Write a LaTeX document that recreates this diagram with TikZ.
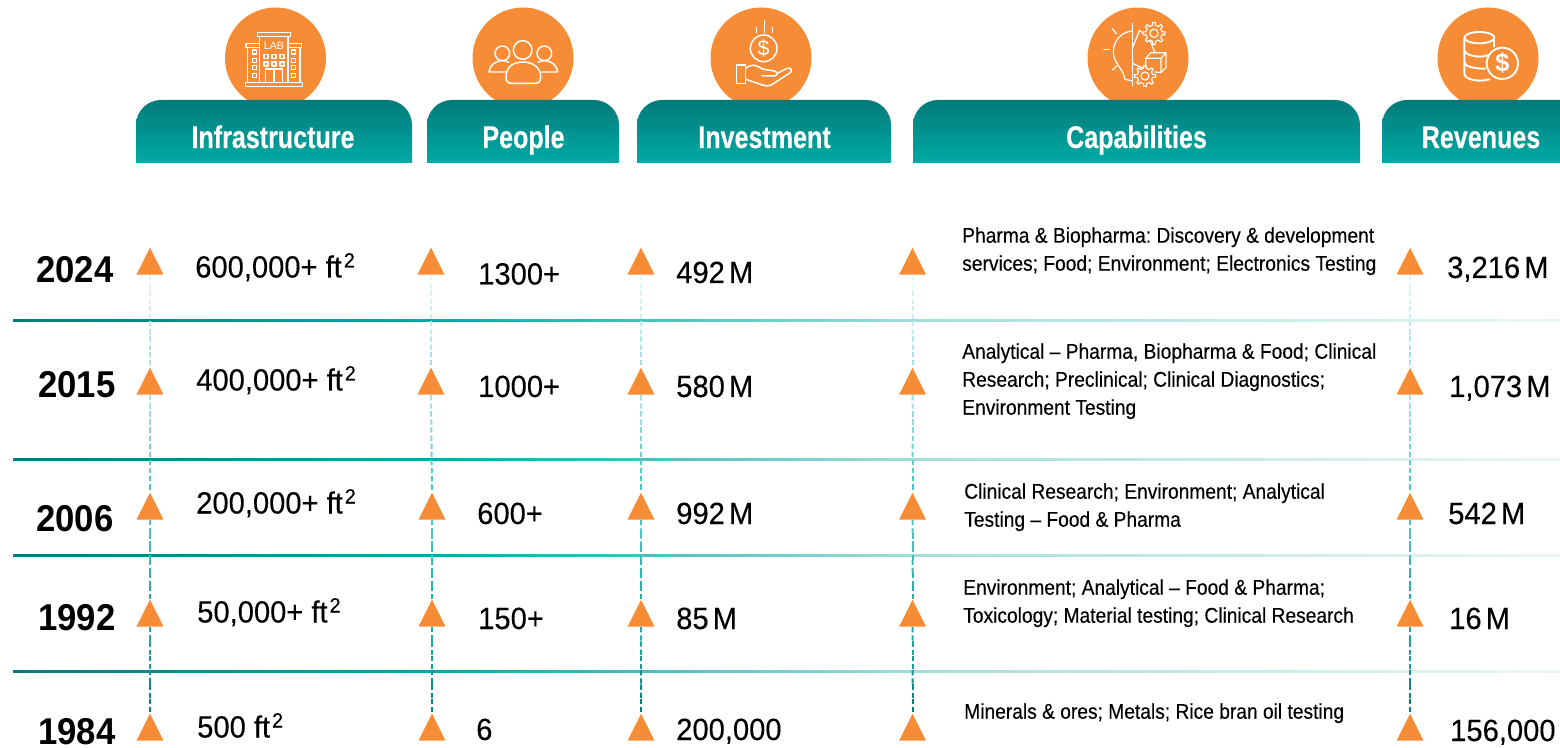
\documentclass[tikz,border=0pt]{standalone}
\usepackage{fontspec}
\setmainfont{Liberation Sans}
\newfontfamily\headfont[FakeStretch=0.80,FakeBold=0.3]{Liberation Sans Bold}
\newfontfamily\valfont[FakeStretch=0.95,FakeBold=0.25]{Liberation Sans}
\newfontfamily\capfont[FakeStretch=0.90,FakeBold=0.25]{Liberation Sans}
\newfontfamily\yearfont[FakeStretch=0.93]{Liberation Sans Bold}
\usetikzlibrary{shapes.geometric,calc}
\definecolor{orng}{HTML}{F68D36}
\definecolor{tealdark}{HTML}{047A7A}
\definecolor{teallight}{HTML}{00ABA5}
\definecolor{rulepale}{HTML}{A8DFDC}
\definecolor{rulegone}{HTML}{EAF7F7}
\pgfdeclarehorizontalshading{rulefade}{100bp}{color(0bp)=(tealdark); color(25bp)=(tealdark); color(38.5bp)=(teallight); color(55bp)=(rulepale); color(75bp)=(rulegone); color(100bp)=(rulegone)}
\tikzset{
  tri/.style={isosceles triangle,isosceles triangle apex angle=60,isosceles triangle stretches,shape border rotate=90,minimum width=27*0.75pt,minimum height=27*0.75pt,inner sep=0pt,fill=orng,draw=none,anchor=lower side},
  badge/.style={circle,fill=orng,minimum size=101*0.75pt,inner sep=0pt,draw=none},
  headtxt/.style={text=white,font=\headfont\fontsize{23.5pt}{26pt}\selectfont,anchor=base,inner sep=0pt},
  yeartxt/.style={font=\yearfont\fontsize{28pt}{30pt}\selectfont,anchor=base west,inner sep=0pt},
  valtxt/.style={font=\valfont\fontsize{23pt}{26pt}\selectfont,anchor=base west,inner sep=0pt},
  captxt/.style={font=\frenchspacing\capfont\fontsize{16pt}{21pt}\selectfont,anchor=north west,align=left,inner sep=0pt},
  ic/.style={draw=white,line width=1.1pt,line join=round,line cap=round},
  dashline/.style={line width=1.5pt,dash pattern=on 4pt off 2.2pt},
}
\newcommand{\sqtwo}{\kern1.5pt\raisebox{7.5pt}{\fontsize{15.5pt}{16pt}\selectfont 2}}
\newcommand{\conn}[4]{%
  \foreach \k [evaluate=\k as \f using \k/6, evaluate=\k as \g using \k/6+1/6, evaluate=\k as \p using int(100-100*\k/5)] in {0,...,5}{
    \draw[dashline,color=#3!\p!#4] ($(#1.south)!\f!(#2.north)$) -- ($(#1.south)!\g!(#2.north)$);
  }}
\newcommand{\headbar}[2]{%
  \shade[top color=tealdark,bottom color=teallight] (#1,163) -- (#1,125) arc[start angle=180,end angle=270,radius=25] -- ({#2-25},100) arc[start angle=270,end angle=360,radius=25] -- (#2,163) -- cycle;}
% gear: centre x, y in the scope's units; radii in pixels
\newcommand{\gearicon}[3]{%
  \begin{scope}[shift={(#1,#2)},x=0.75pt,y=-0.75pt]
  \draw[ic,line width=0.85pt,fill=orng] (-11:#3*0.74) \foreach \a in {0,45,...,315}{ -- (\a-11:#3*0.74) -- (\a-7:#3) -- (\a+7:#3) -- (\a+11:#3*0.74) } -- cycle;
  \draw[ic,line width=0.85pt] (0,0) circle[radius=#3*0.38];
  \end{scope}}
\begin{document}
\begin{tikzpicture}[x=0.75pt,y=-0.75pt]
\useasboundingbox (0,0) rectangle (1560,748);

% badges
\node[badge] (b1) at (275.5,58) {};
\node[badge] (b2) at (523,58) {};
\node[badge] (b3) at (761,58) {};
\node[badge] (b4) at (1138,58) {};
\node[badge] (b5) at (1488,58) {};

% header bars
\headbar{136}{412}
\headbar{427}{619}
\headbar{637}{891}
\headbar{913}{1360}
\shade[top color=tealdark,bottom color=teallight] (1382,163) -- (1382,125) arc[start angle=180,end angle=270,radius=25] -- (1560,100) -- (1560,163) -- cycle;
\node[headtxt] (t1) at (273,148) {Infrastructure};
\node[headtxt] (t2) at (523.5,148) {People};
\node[headtxt] (t3) at (764.5,148) {Investment};
\node[headtxt] (t4) at (1136.5,148) {Capabilities};
\node[headtxt] (t5) at (1481,148) {Revenues};

% building icon
\begin{scope}[shift={(130,0)},x=0.25pt,y=-0.25pt]
 \draw[ic] (382,98) rectangle (482,110);
 \draw[ic] (388,110) -- (388,248); \draw[ic] (474,110) -- (474,248);
 \draw[ic] (348,130) rectangle (388,143);
 \draw[ic] (474,130) rectangle (515,143);
 \draw[ic] (352,143) -- (352,248); \draw[ic] (510,143) -- (510,248);
 \draw[ic] (346,248) rectangle (518,260);
 \node[text=white,inner sep=0pt,font=\fontsize{8pt}{8pt}\selectfont] (lab) at (432,138) {LAB};
 \foreach \x in {408,432,456}\foreach \y in {170,192}{\draw[ic,line width=0.8pt] (\x-6,\y-6) rectangle (\x+6,\y+6);}
 \foreach \x in {374,490}\foreach \y in {156,181,203,226}{\draw[ic,line width=0.8pt] (\x-6,\y-6) rectangle (\x+6,\y+6);}
 \draw[ic] (407,248) -- (407,207) -- (457,207) -- (457,248); \draw[ic] (432,207) -- (432,248);
\end{scope}

% people icon
\begin{scope}[shift={(130,0)},x=0.25pt,y=-0.25pt]
 \draw[ic] (1178,150) circle[radius=28];
 \draw[ic] (1117,160) circle[radius=22];
 \draw[ic] (1243,160) circle[radius=22];
 \draw[ic] (1128,232) .. controls (1128,200) and (1150,186) .. (1178,186) .. controls (1206,186) and (1232,200) .. (1232,232) .. controls (1232,245) and (1225,250) .. (1215,250) -- (1145,250) .. controls (1135,250) and (1128,245) .. (1128,232) -- cycle;
 \draw[ic] (1136,187) .. controls (1128,183) and (1122,182) .. (1117,182) .. controls (1095,182) and (1078,198) .. (1077,216) -- (1126,216);
 \draw[ic] (1224,187) .. controls (1232,183) and (1238,182) .. (1243,182) .. controls (1265,182) and (1282,198) .. (1283,216) -- (1234,216);
\end{scope}

% investment icon
\begin{scope}[shift={(725,15)},x=0.25pt,y=-0.25pt]
 \draw[ic] (116,100) circle[radius=40];
 \node[text=white,inner sep=0pt,font=\fontsize{16pt}{16pt}\selectfont] (dol1) at (116,101) {\$};
 \draw[ic] (119,18) -- (119,52); \draw[ic] (94,38) -- (94,52); \draw[ic] (143,38) -- (143,52);
 \draw[ic] (35,150) rectangle (62,205);
 \draw[ic] (62,160) .. controls (80,145) and (95,150) .. (112,162) -- (148,168) .. controls (160,172) and (158,183) .. (146,183) -- (110,182);
 \draw[ic] (155,176) -- (186,160) .. controls (198,156) and (204,168) .. (194,174) -- (142,208) .. controls (130,215) and (122,213) .. (110,209) -- (62,193);
\end{scope}

% capabilities icon
\begin{scope}[shift={(1080,10)},x=0.25pt,y=-0.25pt]
 \draw[ic,line width=0.9pt] (157,40) -- (157,228);
 \draw[ic,line width=0.9pt] (157,63) .. controls (125,65) and (100,92) .. (100,125) .. controls (100,150) and (118,170) .. (130,190) -- (135,208) -- (157,213);
 \draw[ic,line width=0.9pt] (96,55) -- (110,72);
 \draw[ic,line width=0.9pt] (72,118) -- (88,118);
 \draw[ic,line width=0.9pt] (97,180) -- (111,167);
 \draw[ic,line width=0.9pt] (157,115) -- (178,62) -- (195,72);
 \draw[ic,line width=0.9pt] (157,160) -- (197,178);
 \draw[ic,line width=0.9pt] (207,85) -- (225,128);
 \gearicon{222}{70}{11}
 \gearicon{195}{198}{10.5}
 \draw[ic,line width=0.9pt] (197,172) -- (197,145) -- (243,145) -- (243,188) -- (225,186);
 \draw[ic,line width=0.9pt] (197,145) -- (212,128) -- (258,128) -- (258,172) -- (243,188);
 \draw[ic,line width=0.9pt] (243,145) -- (258,128);
\end{scope}

% revenues icon
\begin{scope}[shift={(1360,0)},x=0.25pt,y=-0.25pt]
 \draw[ic,line width=1.4pt] (358,113) ellipse[x radius=45,y radius=17];
 \draw[ic,line width=1.4pt] (313,113) -- (313,222) .. controls (313,235) and (340,242) .. (358,242) .. controls (368,242) and (378,241) .. (388,238);
 \draw[ic,line width=1.4pt] (403,113) -- (403,140);
 \draw[ic,line width=1.4pt] (313,150) .. controls (313,163) and (340,170) .. (358,170) .. controls (375,170) and (395,165) .. (403,152);
 \draw[ic,line width=1.4pt] (313,186) .. controls (313,199) and (340,206) .. (375,206);
 \draw[ic,line width=1.4pt,fill=orng] (427,190) circle[radius=47];
 \node[text=white,inner sep=0pt,font=\bfseries\fontsize{19pt}{20pt}\selectfont] (dol2) at (427,190) {\$};
\end{scope}

% horizontal rules
\foreach \y in {321,459,555,671}{
  \shade[shading=rulefade] (13,\y-1) rectangle (1560,\y+1);
}

% triangles
\foreach \c/\xa/\xb in {a/150/150,b/431/432,c/641/641,d/912.5/912.5,e/1410/1410}{
  \node[tri] (\c1) at (\xa,275) {};
  \node[tri] (\c2) at (\xa,395) {};
  \node[tri] (\c3) at (\xb,520) {};
  \node[tri] (\c4) at (\xb,627) {};
  \node[tri] (\c5) at (\xb,741) {};
}
% dashed connectors
\definecolor{d1}{HTML}{E4F6F7}
\definecolor{d2}{HTML}{A5E3E3}
\definecolor{d3}{HTML}{4CC7C7}
\definecolor{d4}{HTML}{22AEAE}
\definecolor{d5}{HTML}{067F80}
\foreach \c in {a,b,c,d,e}{
  \conn{\c1}{\c2}{d1}{d2}
  \conn{\c2}{\c3}{d2}{d3}
  \conn{\c3}{\c4}{d3}{d4}
  \conn{\c4}{\c5}{d4}{d5}
}

% years
\node[yeartxt] (y1) at (36,282.5) {2024};
\node[yeartxt] (y2) at (38,398) {2015};
\node[yeartxt] (y3) at (36,531) {2006};
\node[yeartxt] (y4) at (38,630.5) {1992};
\node[yeartxt] (y5) at (38,744.5) {1984};

% infrastructure
\node[valtxt] (i1) at (195,277.5) {600,000+ ft\sqtwo};
\node[valtxt] (i2) at (196,390.5) {400,000+ ft\sqtwo};
\node[valtxt] (i3) at (196,513.5) {200,000+ ft\sqtwo};
\node[valtxt] (i4) at (197,622.5) {50,000+ ft\sqtwo};
\node[valtxt] (i5) at (197,737.5) {500 ft\sqtwo};
% people
\node[valtxt] (p1) at (478,284.5) {1300+};
\node[valtxt] (p2) at (478,397) {1000+};
\node[valtxt] (p3) at (477,524) {600+};
\node[valtxt] (p4) at (478,629) {150+};
\node[valtxt] (p5) at (476,740) {6};
% investment
\node[valtxt] (m1) at (676,283) {492 \kern-0.13em M};
\node[valtxt] (m2) at (676,397) {580 \kern-0.13em M};
\node[valtxt] (m3) at (676,524) {992 \kern-0.13em M};
\node[valtxt] (m4) at (676,629) {85 \kern-0.13em M};
\node[valtxt] (m5) at (676,740) {200,000};
% revenues
\node[valtxt] (r1) at (1447,278) {3,216 \kern-0.13em M};
\node[valtxt] (r2) at (1449,397) {1,073 \kern-0.13em M};
\node[valtxt] (r3) at (1448,524) {542 \kern-0.13em M};
\node[valtxt] (r4) at (1449,629) {16 \kern-0.13em M};
\node[valtxt] (r5) at (1450,741) {156,000};
% capabilities
\node[captxt] (c1) at (962,227) {Pharma \& Biopharma: Discovery \& development\\services; Food; Environment; Electronics Testing};
\node[captxt] (c2) at (962,343) {Analytical – Pharma, Biopharma \& Food; Clinical\\Research; Preclinical; Clinical Diagnostics;\\Environment Testing};
\node[captxt] (c3) at (964,483) {Clinical Research; Environment; Analytical\\Testing – Food \& Pharma};
\node[captxt] (c4) at (963,579) {Environment; Analytical – Food \& Pharma;\\Toxicology; Material testing; Clinical Research};
\node[captxt] (c5) at (964,703) {Minerals \& ores; Metals; Rice bran oil testing};
\end{tikzpicture}
\end{document}
